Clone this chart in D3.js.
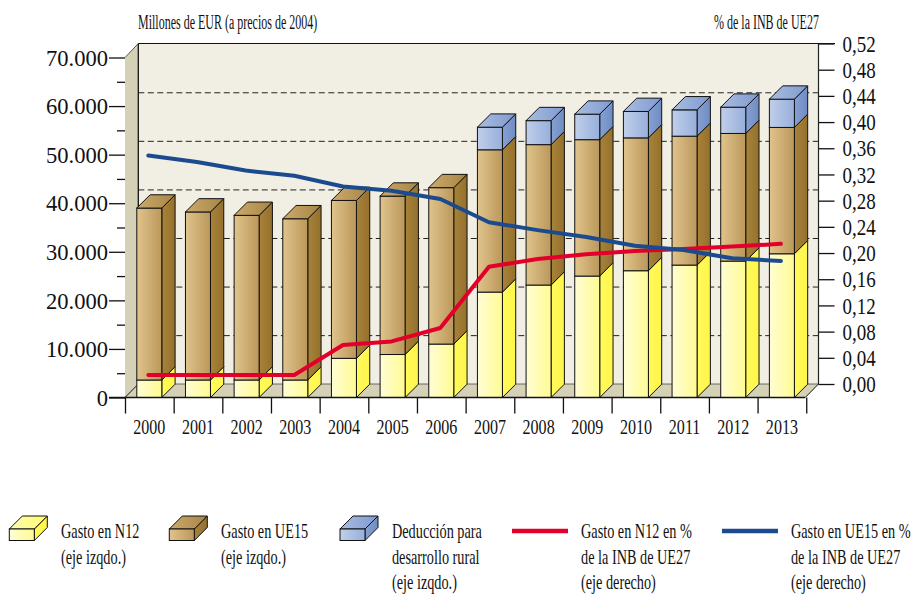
<!DOCTYPE html>
<html><head><meta charset="utf-8">
<script src="https://cdn.jsdelivr.net/npm/d3@7/dist/d3.min.js"></script>
<style>html,body{margin:0;background:#fff}svg{display:block}text{font-family:"Liberation Serif",serif;fill:#111}</style>
</head><body><svg id="c" width="914" height="594"></svg>
<script>
const years=["2000","2001","2002","2003","2004","2005","2006","2007","2008","2009","2010","2011","2012","2013"];
const gastoN12=[3600,3600,3600,3600,8060,8850,11000,21700,23150,25000,26100,27260,28080,29590];
const gastoUE15=[35400,34600,33900,33200,32510,32610,32200,29300,28910,28080,27350,26540,26280,26010];
const deduccion=[0,0,0,0,0,0,0,4650,4940,5250,5440,5420,5410,5820];
const pctN12=[0.0137,0.0137,0.0137,0.0137,0.0595,0.065,0.0855,0.179,0.191,0.198,0.203,0.206,0.21,0.214];
const pctUE15=[0.349,0.339,0.326,0.318,0.3015,0.295,0.2825,0.247,0.235,0.2245,0.211,0.2045,0.192,0.188];
const leftTicks=[0,10000,20000,30000,40000,50000,60000,70000];
const leftMinor=[5000,15000,25000,35000,45000,55000,65000];
const rightTicks=[0,.04,.08,.12,.16,.2,.24,.28,.32,.36,.4,.44,.48,.52];
const legendItems=[
 {t:["Gasto en N12","(eje izqdo.)"],k:"n12"},
 {t:["Gasto en UE15","(eje izqdo.)"],k:"ue15"},
 {t:["Deducción para","desarrollo rural","(eje izqdo.)"],k:"ded"},
 {t:["Gasto en N12 en %","de la INB de UE27","(eje derecho)"],k:"lr"},
 {t:["Gasto en UE15 en %","de la INB de UE27","(eje derecho)"],k:"lb"}];

const svg=d3.select("#c"),defs=svg.append("defs");
const D=13.3, X0=125, BAND=48.66, BW=25, Y0=397.5;
const x=d3.scaleBand().domain(years).range([X0,X0+BAND*14]);
const xi=d3.scaleLinear().domain([0,14]).range([X0,X0+BAND*14]);
const y=d3.scaleLinear().domain([0,70000]).range([Y0,Y0-340]);
const yB=y.copy().range([Y0-D,Y0-D-340]);
const yR=d3.scaleLinear().domain([0,.52]).range([384,43.5]);
const backL=X0+D, backR=818.5;

function grad(id,a,b,vert){const g=defs.append("linearGradient").attr("id",id).attr("x1",0).attr("y1",vert?1:0).attr("x2",vert?0:1).attr("y2",0);
 g.append("stop").attr("offset",0).attr("stop-color",a);g.append("stop").attr("offset",1).attr("stop-color",b);}
const pal={n12:["#fffdd6","#fffb92","#fffa5c","#fff64a","#fffcb0","#fffa70"],
 ue15:["#e0c48c","#bb975a","#a88338","#94702e","#cdaa6c","#a58545"],
 ded:["#c0cfea","#97afdb","#86a0d2","#6f8cc2","#a9bde0","#7f9ad0"]};
for(const k in pal){const p=pal[k];grad(k+"F",p[0],p[1]);grad(k+"S",p[2],p[3]);grad(k+"T",p[4],p[5]);}

const poly=pts=>pts.map(p=>p.join(",")).join(" ");
// walls
svg.append("polygon").attr("points",poly([[backL,43.5],[backR,43.5],[backR,384],[backL,384]])).attr("fill","#f1eee3");
svg.append("polygon").attr("points",poly([[X0,Y0-340],[backL,43.5],[backL,384],[X0,Y0]])).attr("fill","#d5d1b6");
svg.append("polygon").attr("points",poly([[X0,Y0],[backL,384],[backR,384],[backR-D,Y0]])).attr("fill","#d5d1b6");
// gridlines
svg.append("g").selectAll("line").data(leftTicks.slice(1,7)).join("line")
 .attr("x1",backL).attr("x2",backR).attr("y1",d=>yB(d)).attr("y2",d=>yB(d))
 .attr("stroke","#222").attr("stroke-width",1).attr("stroke-dasharray","6,3.5");
svg.append("line").attr("x1",backL).attr("x2",835).attr("y1",43.5).attr("y2",43.5).attr("stroke","#111").attr("stroke-width",1.2);
svg.append("line").attr("x1",backL).attr("x2",backR).attr("y1",384).attr("y2",384).attr("stroke","#333").attr("stroke-width",.7);
svg.append("line").attr("x1",backL).attr("x2",backL).attr("y1",43.5).attr("y2",384).attr("stroke","#111").attr("stroke-width",1.3);
svg.append("line").attr("x1",X0).attr("x2",backL).attr("y1",Y0-340).attr("y2",43.5).attr("stroke","#333").attr("stroke-width",.8);
svg.append("line").attr("x1",X0).attr("x2",backL).attr("y1",Y0).attr("y2",384).attr("stroke","#111").attr("stroke-width",1);
svg.append("line").attr("x1",backR-D).attr("x2",backR).attr("y1",Y0).attr("y2",384).attr("stroke","#111").attr("stroke-width",1);

// bars
const rows=years.map((yr,i)=>({yr,n12:gastoN12[i],ue15:gastoUE15[i],ded:deduccion[i]}));
const keys=["n12","ue15","ded"];
const stack=d3.stack().keys(keys)(rows);
const barL=yr=>x(yr)+11.8;
const bars=svg.append("g");
rows.forEach((r,i)=>{
 const g=bars.append("g");
 const bx=barL(r.yr);
 let topK=null;
 stack.forEach(s=>{
  const a=s[i][0],b=s[i][1]; if(b-a<=0)return; topK=s.key;
  g.append("polygon").attr("points",poly([[bx+BW,y(a)],[bx+BW+D,y(a)-D],[bx+BW+D,y(b)-D],[bx+BW,y(b)]]))
   .attr("fill",`url(#${s.key}S)`).attr("stroke","#111").attr("stroke-width",1);
 });
 stack.forEach(s=>{
  const a=s[i][0],b=s[i][1]; if(b-a<=0)return;
  g.append("rect").attr("x",bx).attr("width",BW).attr("y",y(b)).attr("height",y(a)-y(b))
   .attr("fill",`url(#${s.key}F)`).attr("stroke","#111").attr("stroke-width",1);
 });
 const tv=stack[2][i][1];
 g.append("polygon").attr("points",poly([[bx,y(tv)],[bx+D,y(tv)-D],[bx+BW+D,y(tv)-D],[bx+BW,y(tv)]]))
  .attr("fill",`url(#${topK}T)`).attr("stroke","#111").attr("stroke-width",1);
});

// lines
const lx=(d,i)=>x(years[i])+x.bandwidth()/2-1;
const line=d3.line().x(lx).y(d=>yR(d));
[[pctN12,"#e2002a"],[pctUE15,"#1c4a8e"]].forEach(([v,c])=>{
 svg.append("path").datum(v).attr("d",line).attr("fill","none").attr("stroke",c).attr("stroke-width",4).attr("stroke-linejoin","round").attr("stroke-linecap","round");
});

// axes
const fmtES=d3.formatLocale({decimal:",",thousands:".",grouping:[3],currency:["","€"]});
const aL=svg.append("g").attr("transform",`translate(${X0},0)`).call(d3.axisLeft(y).tickValues(leftTicks).tickSize(16).tickPadding(1).tickFormat(fmtES.format(",d")));
svg.append("g").attr("transform",`translate(${X0},0)`).call(d3.axisLeft(y).tickValues(leftMinor).tickSize(8).tickFormat(""));
const aR=svg.append("g").attr("transform",`translate(${backR},0)`).call(d3.axisRight(yR).tickValues(rightTicks).tickSize(16).tickPadding(8).tickFormat(fmtES.format(".2f")));
const aX=svg.append("g").attr("transform",`translate(0,${Y0})`).call(d3.axisBottom(xi).tickValues(d3.range(15)).tickSize(16).tickFormat(""));
svg.selectAll(".domain").remove();
svg.selectAll(".tick line").attr("stroke","#111").attr("stroke-width",1.3);
svg.append("line").attr("x1",backR).attr("x2",backR).attr("y1",43.5).attr("y2",384).attr("stroke","#222").attr("stroke-width",1.2);
svg.append("line").attr("x1",109).attr("x2",backR-D).attr("y1",Y0).attr("y2",Y0).attr("stroke","#111").attr("stroke-width",1.6);
aL.selectAll("text").attr("font-size",24).attr("class","al");
aR.selectAll("text").attr("font-size",24).attr("class","ar");
svg.append("g").selectAll("text").data(years).join("text").attr("class","y")
 .attr("x",d=>x(d)+x.bandwidth()/2).attr("y",434).attr("text-anchor","middle").attr("font-size",22).text(d=>d);

// titles
svg.append("text").attr("class","t").attr("x",138).attr("y",29).attr("font-size",20).text("Millones de EUR (a precios de 2004)");
svg.append("text").attr("class","t").attr("x",714).attr("y",29).attr("font-size",20).text("% de la INB de UE27");

// legend
const legX=[61,221,392,581,791], swX=[9.3,169.3,340,512,722];
legendItems.forEach((it,i)=>{
 const g=svg.append("g"), sx=swX[i];
 if(it.k[0]==="l"){
  g.append("line").attr("x1",sx).attr("x2",sx+56).attr("y1",531).attr("y2",531).attr("stroke",it.k==="lr"?"#e2002a":"#1c4a8e").attr("stroke-width",4.5);
 } else {
  const w=25,h=11.5,top=529,d=13;
  g.append("polygon").attr("points",poly([[sx+w,top],[sx+w+d,top-d],[sx+w+d,top-d+h],[sx+w,top+h]])).attr("fill",`url(#${it.k}S)`).attr("stroke","#111");
  g.append("polygon").attr("points",poly([[sx,top],[sx+d,top-d],[sx+w+d,top-d],[sx+w,top]])).attr("fill",`url(#${it.k}T)`).attr("stroke","#111");
  g.append("rect").attr("x",sx).attr("y",top).attr("width",w).attr("height",h).attr("fill",`url(#${it.k}F)`).attr("stroke","#111");
 }
 it.t.forEach((s,j)=>g.append("text").attr("class","l").attr("x",legX[i]).attr("y",[538,564,589][j]).attr("font-size",21).text(s));
});

// condensed type, as in the original: scale each text horizontally about its anchor
function squeeze(sel,r){sel.each(function(){const ax=+this.getAttribute("x")||0;this.setAttribute("transform",`translate(${ax},0) scale(${r},1) translate(${-ax},0)`);});}
squeeze(svg.selectAll("text.al"),.94);
squeeze(svg.selectAll("text.ar"),.79);
squeeze(svg.selectAll("text.y"),.73);
squeeze(svg.selectAll("text.t"),.6);
squeeze(svg.selectAll("text.l"),.68);
</script></body></html>
